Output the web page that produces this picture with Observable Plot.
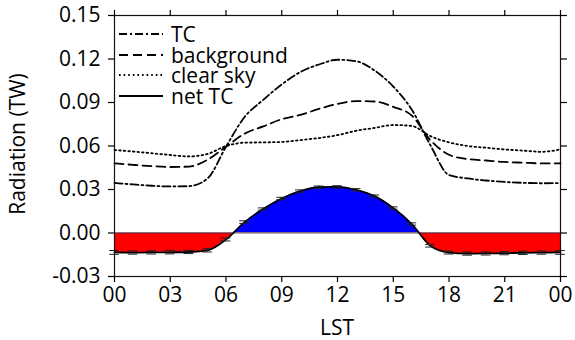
<!DOCTYPE html>
<html><head><meta charset="utf-8">
<script src="https://cdn.jsdelivr.net/npm/d3@7"></script>
<script src="https://cdn.jsdelivr.net/npm/@observablehq/plot@0.6"></script>
<style>
body{margin:0;background:#fff}
#chart{position:relative;width:575px;height:340px}
</style>
</head><body><div id="chart"></div>
<script>
// ---- data ----
const hours = [0,1,2,3,4,5,6,7,8,9,10,11,12,13,14,15,16,17,18,19,20,21,22,23,24];
const tc = [0.0345,0.0335,0.0326,0.0321,0.0323,0.0375,0.0595,0.0800,0.0918,0.1025,0.1110,0.1162,0.1195,0.1185,0.1120,0.1010,0.0850,0.0605,0.0400,0.0376,0.0362,0.0352,0.0346,0.0343,0.0345];
const background = [0.0480,0.0470,0.0461,0.0455,0.0458,0.0505,0.0595,0.0685,0.0735,0.0785,0.0814,0.0856,0.0890,0.0910,0.0907,0.0870,0.0810,0.0640,0.0540,0.0510,0.0500,0.0490,0.0485,0.0480,0.0480];
const clearSky = [0.0572,0.0562,0.0550,0.0538,0.0528,0.0545,0.0600,0.0623,0.0625,0.0628,0.0641,0.0655,0.0675,0.0705,0.0725,0.0745,0.0738,0.0668,0.0625,0.0600,0.0588,0.0576,0.0568,0.0560,0.0577];
const netTC = [-0.0134,-0.0135,-0.0134,-0.0133,-0.0131,-0.0120,-0.0045,0.0075,0.0165,0.0238,0.0289,0.0316,0.0318,0.0298,0.0254,0.0172,0.0062,-0.0088,-0.0135,-0.0142,-0.0141,-0.0139,-0.0137,-0.0135,-0.0134];
const netErr = [0.0013,0.0011,0.0011,0.0011,0.0011,0.0011,0.0010,0.0009,0.0008,0.0008,0.0008,0.0008,0.0008,0.0008,0.0008,0.0008,0.0008,0.0009,0.0010,0.0011,0.0011,0.0011,0.0011,0.0011,0.0013];
const xTicks = [0,3,6,9,12,15,18,21,24];
const xTickLabels = ["00","03","06","09","12","15","18","21","00"];
const yTicks = [-0.03,0,0.03,0.06,0.09,0.12,0.15];
const yTickLabels = ["-0.03","0.00","0.03","0.06","0.09","0.12","0.15"];
const seriesNames = ["TC","background","clear sky","net TC"];
const seriesDash = ["8,3,2,3","9,5","1.6,3","none"];

const data = hours.map((h,i)=>({h, tc: tc[i], bg: background[i], cs: clearSky[i], net: netTC[i], err: netErr[i]}));
const xLab = new Map(xTicks.map((t,i)=>[t,xTickLabels[i]]));
const yLab = new Map(yTicks.map((t,i)=>[t,yTickLabels[i]]));
const curve = "monotone-x";
const capHalf = 0.26;
const FONT = "Open Sans";

const plot = Plot.plot({
  width: 575, height: 340,
  marginLeft: 114, marginRight: 15, marginTop: 15, marginBottom: 64,
  style: {fontFamily: FONT, fontSize: "21px", background: "white", color: "black", overflow: "visible"},
  x: {domain: [0,24]},
  y: {domain: [-0.03, 0.15]},
  marks: [
    Plot.areaY(data, {x:"h", y1: 0, y2:"net", fill:"#0000ff", curve}),
    Plot.areaY(data, {x:"h", y1: 0, y2:"net", fill:"#ff0000", curve}),
    Plot.ruleY([0], {stroke:"#333", strokeWidth:0.8}),
    Plot.line(data, {x:"h", y:"cs", stroke:"black", strokeWidth:1.8, strokeDasharray:seriesDash[2], curve}),
    Plot.line(data, {x:"h", y:"bg", stroke:"black", strokeWidth:1.8, strokeDasharray:seriesDash[1], curve}),
    Plot.line(data, {x:"h", y:"tc", stroke:"black", strokeWidth:1.8, strokeDasharray:seriesDash[0], curve}),
    Plot.line(data, {x:"h", y:"net", stroke:"black", strokeWidth:1.8, curve}),
    Plot.ruleX(data, {x:"h", y1: d=>d.net-d.err, y2: d=>d.net+d.err, stroke:"#222", strokeWidth:1}),
    Plot.ruleY(data, {y: d=>d.net-d.err, x1: d=>d.h-capHalf, x2: d=>d.h+capHalf, stroke:"#222", strokeWidth:1}),
    Plot.ruleY(data, {y: d=>d.net+d.err, x1: d=>d.h-capHalf, x2: d=>d.h+capHalf, stroke:"#222", strokeWidth:1}),
    Plot.frame({stroke:"#111", strokeWidth:1.2}),
    Plot.axisX({anchor:"bottom", ticks: xTicks, tickFormat: d=>xLab.get(d), tickSize:6, tickPadding:5, label:null, fontSize:21, strokeWidth:1.2}),
    Plot.axisX({anchor:"top", ticks: xTicks, tickFormat: ()=>"", tickSize:6, label:null, strokeWidth:1.2}),
    Plot.axisY({anchor:"left", ticks: yTicks, tickFormat: d=>yLab.get(d), tickSize:6, tickPadding:8, label:null, fontSize:21, strokeWidth:1.2}),
    Plot.axisY({anchor:"right", ticks: yTicks, tickFormat: ()=>"", tickSize:6, label:null, strokeWidth:1.2})
  ]
});

document.getElementById("chart").appendChild(plot);
const svgNode = plot.tagName.toLowerCase() === "svg" ? plot : plot.querySelector("svg");
const svg = d3.select(svgNode);
const y0 = plot.scale("y").apply(0);

// clip the two net-TC areas: positive part blue, negative part red
const defs = svg.insert("defs", ":first-child");
defs.append("clipPath").attr("id","clipPos").append("rect").attr("x",0).attr("y",0).attr("width",575).attr("height",y0);
defs.append("clipPath").attr("id","clipNeg").append("rect").attr("x",0).attr("y",y0).attr("width",575).attr("height",340-y0);
const areas = svg.selectAll('g[aria-label="area"]').nodes();
if (areas[0]) areas[0].setAttribute("clip-path","url(#clipPos)");
if (areas[1]) areas[1].setAttribute("clip-path","url(#clipNeg)");

// legend
const lg = svg.append("g").attr("font-family", FONT).attr("font-size", 21).attr("text-anchor","start");
const legendY = [34,55,75,96];
seriesNames.forEach((name,i)=>{
  lg.append("line").attr("x1",119).attr("x2",163).attr("y1",legendY[i]).attr("y2",legendY[i])
    .attr("stroke","black").attr("stroke-width",1.8).attr("stroke-dasharray",seriesDash[i]);
  lg.append("text").attr("x",171).attr("y",legendY[i]+7.5).attr("fill","black").text(name);
});

// axis titles
svg.append("text").attr("x",337).attr("y",335).attr("text-anchor","middle")
  .attr("font-family",FONT).attr("font-size",21).attr("fill","black").text("LST");
svg.append("text").attr("transform","translate(25,144) rotate(-90)").attr("text-anchor","middle")
  .attr("font-family",FONT).attr("font-size",21).attr("fill","black").text("Radiation (TW)");
</script>
</body></html>
